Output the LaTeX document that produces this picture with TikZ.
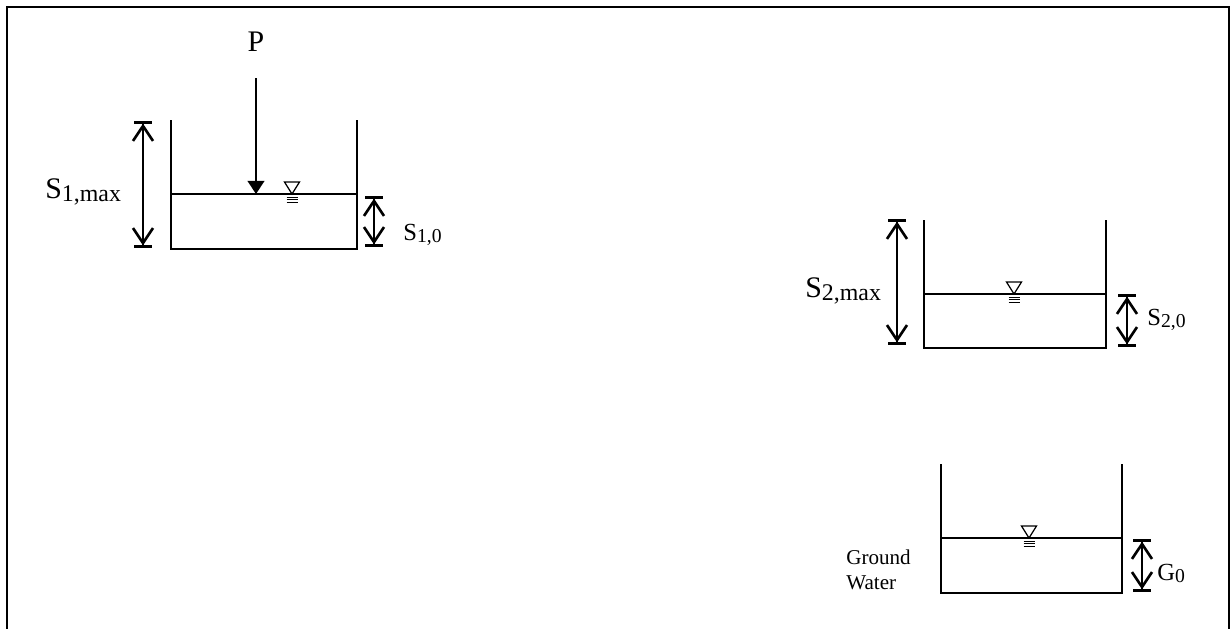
\documentclass[tikz,border=0pt]{standalone}
\usepackage{fontspec}
\usepackage{graphicx}
\setmainfont{Liberation Serif}
\usetikzlibrary{arrows.meta}

% subscript set a little smaller and only slightly lowered
\newcommand\lsub[1]{\raisebox{-0.12em}{\scalebox{0.8}{#1}}}

\tikzset{
  wall/.style={line width=1.2pt},
  dimline/.style={line width=1.5pt,
    {Bar[width=9.7pt]Straight Barb[length=8.5pt,width=11.4pt]}-{Straight Barb[length=8.5pt,width=11.4pt]Bar[width=9.7pt]}},
  inflow/.style={line width=1.3pt, -{Triangle[length=7.5pt,width=9.5pt]}},
  lbl/.style={inner sep=0pt, anchor=base west, font=\fontsize{14}{16}\selectfont},
  biglbl/.style={inner sep=0pt, anchor=base west, font=\fontsize{17}{20}\selectfont},
  wlsym/.pic={
    \draw[line width=0.7pt] (0,0) -- (-7.5,-12) -- (7.5,-12) -- cycle;
    \foreach \d in {3,5.4,7.8}
      \draw[line width=0.3pt] (-5.5,\d) -- (5.5,\d);
  }
}

\begin{document}
\begin{tikzpicture}[x=0.02cm, y=-0.02cm, line join=miter]
  \useasboundingbox (0,0) rectangle (1231,629);

  % ---------- frame (open at the bottom) ----------
  \draw[line width=1.4pt] (7,629) -- (7,7) -- (1229,7) -- (1229,629);

  % ================= tank 1 =================
  \coordinate (t1tl) at (171,120);
  \coordinate (t1bl) at (171,249);
  \coordinate (t1br) at (357,249);
  \coordinate (t1tr) at (357,120);
  \draw[wall] (t1tl) -- (t1bl) -- (t1br) -- (t1tr);
  \draw[wall] (171,194) -- (357,194);
  \pic at (292,194) {wlsym};

  \node[biglbl, anchor=base] (P) at (256,51) {P};
  \coordinate (pin) at (256,78);
  \coordinate (psurf) at (256,194);
  \draw[inflow] (pin) -- (psurf);

  \coordinate (d1top) at (143,121);
  \coordinate (d1bot) at (143,248);
  \draw[dimline] (d1top) -- (d1bot);
  \node[biglbl] (s1max) at (45,198) {S\lsub{1,max}};

  \coordinate (e1top) at (374,196);
  \coordinate (e1bot) at (374,247);
  \draw[dimline] (e1top) -- (e1bot);
  \node[lbl] (s10) at (403,240) {S\lsub{1,0}};

  % ================= tank 2 =================
  \coordinate (t2tl) at (924,220);
  \coordinate (t2bl) at (924,348);
  \coordinate (t2br) at (1106,348);
  \coordinate (t2tr) at (1106,220);
  \draw[wall] (t2tl) -- (t2bl) -- (t2br) -- (t2tr);
  \draw[wall] (924,294) -- (1106,294);
  \pic at (1014,294) {wlsym};

  \coordinate (d2top) at (897,219);
  \coordinate (d2bot) at (897,345);
  \draw[dimline] (d2top) -- (d2bot);
  \node[biglbl] (s2max) at (805,297) {S\lsub{2,max}};

  \coordinate (e2top) at (1127,294);
  \coordinate (e2bot) at (1127,347);
  \draw[dimline] (e2top) -- (e2bot);
  \node[lbl] (s20) at (1147,325) {S\lsub{2,0}};

  % ================= ground water =================
  \coordinate (t3tl) at (941,464);
  \coordinate (t3bl) at (941,593);
  \coordinate (t3br) at (1122,593);
  \coordinate (t3tr) at (1122,464);
  \draw[wall] (t3tl) -- (t3bl) -- (t3br) -- (t3tr);
  \draw[wall] (941,538) -- (1122,538);
  \pic at (1029,538) {wlsym};

  \coordinate (e3top) at (1142,539);
  \coordinate (e3bot) at (1142,592);
  \draw[dimline] (e3top) -- (e3bot);
  \node[lbl] (g0) at (1157,580) {G\lsub{0}};

  \node[inner sep=0pt, anchor=base west, align=left,
        font=\fontsize{12}{14.2}\selectfont] (gw) at (846,589) {Ground\\Water};

\end{tikzpicture}
\end{document}
